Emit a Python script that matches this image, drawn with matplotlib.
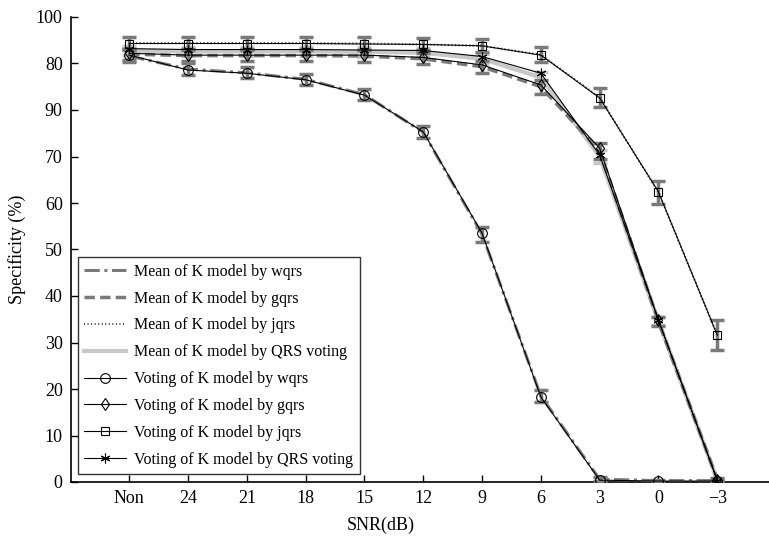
import matplotlib
matplotlib.use('Agg')
import matplotlib.pyplot as plt
import numpy as np

plt.rcParams['font.family'] = ['Liberation Serif', 'DejaVu Serif']

# 数据
snr_labels = ['Non', '24', '21', '18', '15', '12', '9', '6', '3', '0', '\u22123']
y_tick_vals = [0, 10, 20, 30, 40, 50, 60, 70, 80, 90, 100]
y_tick_text = ['0', '10', '20', '30', '40', '50', '60', '70', '90', '80', '100']

mean_wqrs = [91.6, 88.8, 88.0, 86.6, 83.3, 75.2, 53.3, 18.5, 0.6, 0.3, 0.3]
mean_gqrs = [92.0, 91.7, 91.7, 91.7, 91.6, 91.0, 89.3, 85.0, 71.2, 34.5, 0.6]
mean_jqrs = [94.4, 94.4, 94.4, 94.4, 94.3, 94.1, 93.8, 91.9, 82.7, 62.3, 31.6]
mean_qrs = [92.8, 92.6, 92.6, 92.6, 92.5, 92.3, 91.0, 87.0, 70.0, 34.6, 0.4]

err_wqrs = [1.3, 1.2, 1.2, 1.2, 1.2, 1.3, 1.6, 1.3, 0.4, 0.2, 0.2]
err_gqrs = [1.2, 1.2, 1.2, 1.2, 1.2, 1.2, 1.3, 1.5, 1.8, 1.0, 0.3]
err_jqrs = [1.3, 1.3, 1.3, 1.3, 1.3, 1.3, 1.4, 1.6, 2.0, 2.5, 3.2]
err_qrs = [1.0, 1.0, 1.0, 1.0, 1.0, 1.0, 1.1, 1.2, 1.5, 0.8, 0.3]

vote_wqrs = [91.8, 88.6, 87.9, 86.5, 83.2, 75.3, 53.5, 18.3, 0.4, 0.2, 0.2]
vote_gqrs = [92.2, 91.8, 91.8, 91.8, 91.8, 91.3, 89.7, 85.4, 71.8, 34.8, 0.5]
vote_jqrs = [94.3, 94.3, 94.3, 94.3, 94.2, 94.1, 93.8, 91.8, 82.6, 62.4, 31.6]
vote_qrs = [93.2, 93.0, 93.0, 93.0, 92.9, 92.8, 91.5, 87.9, 70.3, 34.8, 0.3]

x = np.arange(len(snr_labels))

GREY = '#7a7a7a'
LIGHT = '#c8c8c8'

fig = plt.figure(figsize=(7.69, 5.44), dpi=100)
ax = fig.add_axes([71 / 769, 1 - 482 / 544, 1 - 71 / 769, (482 - 17) / 544])

eb = dict(capsize=5, elinewidth=2.5, capthick=2.5)
ax.errorbar(x, mean_qrs, yerr=err_qrs, color=LIGHT, ecolor=LIGHT, lw=3,
            label='Mean of K model by QRS voting', zorder=2, **eb)
ax.errorbar(x, mean_wqrs, yerr=err_wqrs, color=GREY, ecolor=GREY, lw=2.2,
            linestyle=(0, (5, 1.5, 1, 1.5)), label='Mean of K model by wqrs', zorder=3, **eb)
ax.errorbar(x, mean_gqrs, yerr=err_gqrs, color=GREY, ecolor=GREY, lw=2.5,
            linestyle=(0, (3, 1.5)), label='Mean of K model by gqrs', zorder=3, **eb)
ax.errorbar(x, mean_jqrs, yerr=err_jqrs, color='#444444', ecolor=GREY, lw=1.5,
            linestyle=(0, (0.5, 1.2)), label='Mean of K model by jqrs', zorder=3, **eb)

vk = dict(color='black', lw=0.8, mfc='none', mec='black', mew=0.8, zorder=5)
ax.plot(x, vote_wqrs, marker='o', ms=7, label='Voting of K model by wqrs', **vk)
ax.plot(x, vote_gqrs, marker='d', ms=6, label='Voting of K model by gqrs', **vk)
ax.plot(x, vote_jqrs, marker='s', ms=5.5, label='Voting of K model by jqrs', **vk)
ax.plot(x, vote_qrs, marker=(6, 2, 0), ms=7, label='Voting of K model by QRS voting', **vk)

ax.set_xlim(-0.99, 10.88)
ax.set_ylim(0, 100)
ax.set_xticks(x)
ax.set_xticklabels(snr_labels)
ax.set_yticks(y_tick_vals)
ax.set_yticklabels(y_tick_text)
ax.tick_params(direction='in', length=5, width=1, labelsize=13, pad=6)

for sp in ['top', 'right']:
    ax.spines[sp].set_visible(False)
for sp in ['left', 'bottom']:
    ax.spines[sp].set_linewidth(1.2)

ax.set_xlabel('SNR(dB)', fontsize=13)
ax.set_ylabel('Specificity (%)', fontsize=13)
ax.xaxis.set_label_coords((381 - 71) / (769 - 71), -0.075)
ax.yaxis.set_label_coords(-0.065, 0.5)

handles, labels = ax.get_legend_handles_labels()
order = ['Mean of K model by wqrs', 'Mean of K model by gqrs', 'Mean of K model by jqrs',
         'Mean of K model by QRS voting', 'Voting of K model by wqrs',
         'Voting of K model by gqrs', 'Voting of K model by jqrs',
         'Voting of K model by QRS voting']
hmap = dict(zip(labels, handles))
leg_handles = []
for name in order:
    h = hmap[name]
    if hasattr(h, 'lines'):
        h = h.lines[0]
    leg_handles.append(h)
leg = ax.legend(leg_handles, order, loc='lower left', bbox_to_anchor=(0.005, 0.01),
                fontsize=11.5, frameon=True, fancybox=False, edgecolor='black',
                handlelength=2.6, handletextpad=0.55, labelspacing=0.68,
                borderpad=0.4, borderaxespad=0.2)
leg.get_frame().set_linewidth(1.0)

fig.savefig('out.png', dpi=100)
